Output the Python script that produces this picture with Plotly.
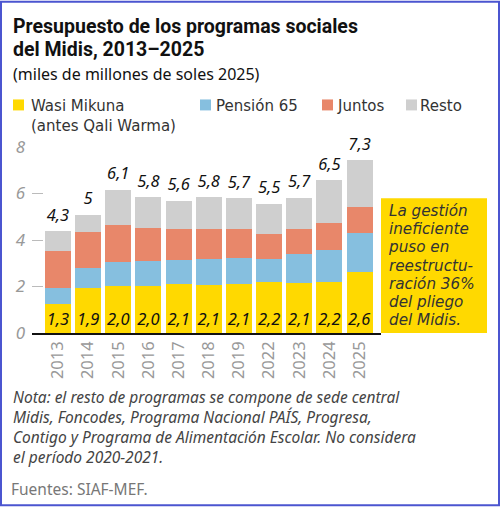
import plotly.graph_objects as go

years = ['2013', '2014', '2015', '2016', '2017', '2018', '2019', '2022', '2023', '2024', '2025']

# segment heights (miles de millones de soles 2025)
wasi = [1.23, 1.93, 2.01, 2.01, 2.09, 2.07, 2.11, 2.19, 2.16, 2.21, 2.63]
pension = [0.70, 0.86, 1.05, 1.09, 1.07, 1.10, 1.12, 1.00, 1.25, 1.38, 1.68]
juntos = [1.58, 1.54, 1.58, 1.41, 1.31, 1.29, 1.23, 1.07, 1.08, 1.12, 1.13]
resto = [0.86, 0.76, 1.53, 1.32, 1.22, 1.37, 1.33, 1.31, 1.32, 1.86, 1.99]

wasi_labels = ['1,3', '1,9', '2,0', '2,0', '2,1', '2,1', '2,1', '2,2', '2,1', '2,2', '2,6']
total_labels = ['4,3', '5', '6,1', '5,8', '5,6', '5,8', '5,7', '5,5', '5,7', '6,5', '7,3']

series_names = ['Wasi Mikuna<br>(antes Qali Warma)', 'Pensión 65', 'Juntos', 'Resto']
colors = ['#FFD900', '#86BFDF', '#E8876A', '#CFCFCF']

FONT = 'Noto Sans'
TIGHT = 'DejaVu Sans'   # shorter line box, used where lines sit close together
W, H = 500, 507
L, R, T, B = 32, 119, 146.7, 173.7

totals = [a + b + c + d for a, b, c, d in zip(wasi, pension, juntos, resto)]

fig = go.Figure()
for vals, name, col in zip([wasi, pension, juntos, resto], series_names, colors):
    fig.add_trace(go.Bar(
        x=years, y=vals, name=name, marker_color=col, marker_line_width=0,
        showlegend=False,
    ))

fig.data[0].update(
    text=wasi_labels, textposition='inside', insidetextanchor='start',
    textangle=0, constraintext='none',
    insidetextfont=dict(family=FONT, size=16.5, color='#111', style='italic'),
)

# totals above each stack (invisible marker pushes the text up a bit)
fig.add_trace(go.Scatter(
    x=years, y=totals, mode='markers+text', text=total_labels,
    marker=dict(size=9, opacity=0), hoverinfo='skip',
    textposition='top center', showlegend=False, cliponaxis=False,
    textfont=dict(family=FONT, size=16.5, color='#111', style='italic'),
))

fig.update_layout(
    width=W, height=H,
    margin=dict(l=L, r=R, t=T, b=B, autoexpand=False),
    barmode='stack', bargap=0.14,
    plot_bgcolor='white', paper_bgcolor='white',
)
fig.update_xaxes(
    type='category', range=[-0.86, 10.71], showgrid=False, automargin=False,
    showline=True, linecolor='#111', linewidth=1.5, ticks='',
    tickangle=-90, tickfont=dict(family=FONT, size=16.5, color='#999'),
)
fig.update_yaxes(
    range=[0, 8], tickvals=[0, 2, 4, 6, 8], showgrid=False, zeroline=False,
    automargin=False, ticks='inside', ticklen=11, tickcolor='#bbb', tickwidth=1,
    ticklabelstandoff=6,
    tickfont=dict(family=FONT, size=17, color='#999', style='italic'),
)

def px_x(p):
    return (p - L) / (W - L - R)

def px_y(p):
    return (H - B - p) / (H - T - B)

ann = []
shapes = []
# title (line pitch comes from the outer font size)
ann.append(dict(text='<b><span style="font-size:19.5px">Presupuesto de los programas sociales</span></b><br>'
                     '<b><span style="font-size:19.5px">del Midis, 2013–2025</span></b>',
                x=px_x(11), y=px_y(12), xanchor='left', yanchor='top', align='left',
                font=dict(family='Roboto', size=18, color='#111')))
ann.append(dict(text='(miles de millones de soles 2025)',
                x=px_x(11), y=px_y(60), xanchor='left', yanchor='top', align='left',
                font=dict(family=FONT, size=16, color='#111')))

# legend
leg_sq = [13, 200, 322, 406]
leg_tx = [29, 214, 335, 418]
for sx, tx, name, col in zip(leg_sq, leg_tx, series_names, colors):
    shapes.append(dict(type='rect', xref='paper', yref='paper',
                       x0=px_x(sx), x1=px_x(sx + 11), y0=px_y(110), y1=px_y(99),
                       fillcolor=col, line_width=0))
    ann.append(dict(text=name, x=px_x(tx), y=px_y(95), xanchor='left', yanchor='top',
                    align='left', font=dict(family=TIGHT, size=15, color='#333')))

# callout box
callout = ['La gestión', 'ineficiente', 'puso en', 'reestructu-', 'ración 36%', 'del pliego', 'del Midis.']
shapes.append(dict(type='rect', xref='paper', yref='paper',
                   x0=1.0, x1=px_x(487), y0=0, y1=px_y(198),
                   fillcolor='#FFD900', line_width=0))
ann.append(dict(text='<br>'.join(f'<i><span style="font-size:15.2px">{s}</span></i>' for s in callout),
                x=px_x(386), y=px_y(266), xanchor='left', yanchor='middle', align='left',
                font=dict(family=TIGHT, size=14, color='#333')))

# footnotes
ann.append(dict(text='<i>Nota: el resto de programas se compone de sede central<br>'
                     'Midis, Foncodes, Programa Nacional PAÍS, Progresa,<br>'
                     'Contigo y Programa de Alimentación Escolar. No considera<br>'
                     'el período 2020-2021.</i>',
                x=px_x(11), y=px_y(384), xanchor='left', yanchor='top', align='left',
                font=dict(family=FONT, size=15.5, color='#444')))
ann.append(dict(text='Fuentes: SIAF-MEF.',
                x=px_x(9), y=px_y(477), xanchor='left', yanchor='top', align='left',
                font=dict(family=FONT, size=15.5, color='#777')))

for a in ann:
    a.update(xref='paper', yref='paper', showarrow=False)

# thin frame round the whole graphic
shapes.append(dict(type='rect', xref='paper', yref='paper',
                   x0=px_x(1), x1=px_x(W - 1), y0=px_y(H - 1), y1=px_y(1),
                   line=dict(color='#4B55D0', width=2), fillcolor='rgba(0,0,0,0)'))

fig.update_layout(annotations=ann, shapes=shapes)

fig.write_html('out.html', config={'displayModeBar': False},
               post_script="document.body.style.margin='0';")
